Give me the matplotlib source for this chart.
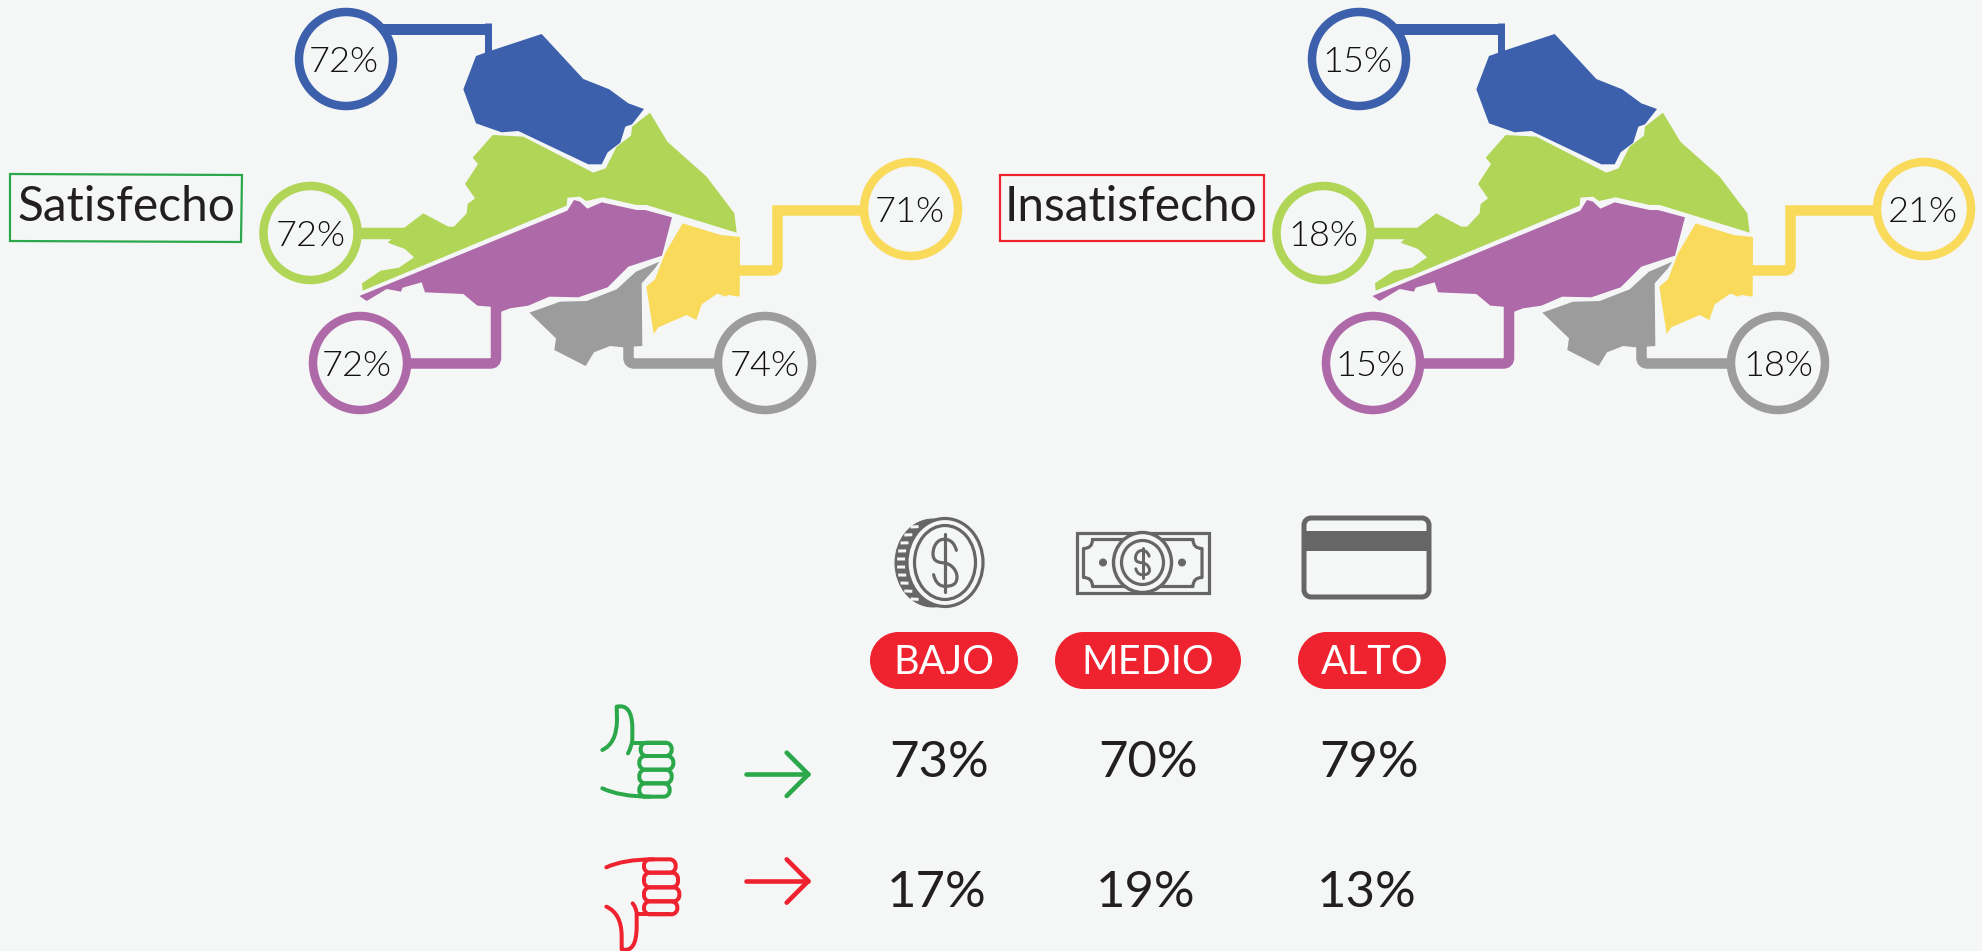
import matplotlib
matplotlib.use("Agg")
import matplotlib.pyplot as plt
from matplotlib.patches import Polygon, Ellipse, PathPatch, Rectangle
from matplotlib.path import Path

BG = "#F5F7F6"
BLUE = "#3D60AC"
GREEN = "#B1D557"
PURPLE = "#AE69A9"
GRAY = "#9C9C9C"
YELLOW = "#F9DA5B"
RED = "#EF2330"
DARK_GREEN = "#2AA84A"
ICON = "#666666"
TEXT = "#231F20"

# map labels, order: blue, green, purple, gray, yellow
SATISFECHO = ["72%", "72%", "72%", "74%", "71%"]
INSATISFECHO = ["15%", "18%", "15%", "18%", "21%"]

LEVELS = ["BAJO", "MEDIO", "ALTO"]
ROW_UP = ["73%", "70%", "79%"]
ROW_DOWN = ["17%", "19%", "13%"]

# region outlines, traced at 3x from a crop starting at (340, 20)
BLUE_SHAPE = [(408,108),(453,92),(605,42),(730,177),(808,208),(865,250),(912,267),(876,313),(856,320),
              (841,368),(803,397),(785,433),(745,433),(535,333),(485,337),(408,310),(370,208)]
GREEN_SHAPE = [(930,278),(982,365),(1100,470),(1183,580),(1190,638),(920,555),(890,555),(788,532),(738,543),
               (720,530),(682,533),(680,557),(68,812),(66,790),(122,752),(177,743),(222,712),(195,687),
               (143,668),(157,655),(197,620),(250,580),(325,620),(342,620),(380,580),(383,552),(405,535),
               (375,492),(414,432),(398,413),(458,345),(550,350),(760,458),(797,445),(830,380),(873,347),(876,320)]
PURPLE_SHAPE = [(702,540),(720,545),(742,566),(785,547),(890,570),(915,570),(996,592),(966,707),(865,740),
                (803,802),(715,832),(628,830),(565,857),(510,865),(484,875),(450,860),(412,857),(370,822),
                (255,817),(245,787),(188,803),(183,815),(140,807),(80,843),(58,828),(682,572)]
GRAY_SHAPE = [(958,725),(945,745),(905,790),(907,978),(850,982),(810,978),(762,997),(737,1038),(643,990),
              (648,955),(568,878),(660,845),(740,843),(830,808),(888,755)]
YELLOW_SHAPE = [(1028,610),(1142,645),(1200,651),(1199,830),(1165,825),(1157,830),(1132,821),(1085,853),
                (1069,900),(1040,885),(955,922),(941,942),(919,800),(945,778),(975,700)]

plt.rcParams["font.family"] = ["Lato", "DejaVu Sans"]

fig = plt.figure(figsize=(19.82, 9.51), dpi=100, facecolor=BG)
ax = fig.add_axes([0, 0, 1, 1])
ax.set_xlim(0, 1982)
ax.set_ylim(951, 0)
ax.axis("off")


def px(width):
    return width * 0.72


def stroke(points, color, width, z=2, corner=None):
    # polyline, index in corner gets rounded with a quadratic curve
    verts = [points[0]]
    codes = [Path.MOVETO]
    for i in range(1, len(points)):
        if corner == i:
            (x0, y0), (x1, y1), (x2, y2) = points[i - 1], points[i], points[i + 1]
            r = 6
            a = (x1 - r * (x1 > x0) + r * (x1 < x0), y1 - r * (y1 > y0) + r * (y1 < y0))
            b = (x1 + r * (x2 > x1) - r * (x2 < x1), y1 + r * (y2 > y1) - r * (y2 < y1))
            verts += [a, (x1, y1), b]
            codes += [Path.LINETO, Path.CURVE3, Path.CURVE3]
        else:
            verts.append(points[i])
            codes.append(Path.LINETO)
    ax.add_patch(PathPatch(Path(verts, codes), fill=False, edgecolor=color, lw=px(width),
                           capstyle="butt", joinstyle="miter", zorder=z))


def curve(verts, codes, color, width, z=3):
    ax.add_patch(PathPatch(Path(verts, codes), fill=False, edgecolor=color, lw=px(width),
                           capstyle="round", joinstyle="round", zorder=z))


def pill(x0, y0, x1, y1, r, face="none", edge="none", width=0, z=3):
    # rounded rectangle with true circular corners
    k = r * 0.45
    verts = [(x0 + r, y0), (x1 - r, y0),
             (x1 - k, y0), (x1, y0 + k), (x1, y0 + r), (x1, y1 - r),
             (x1, y1 - k), (x1 - k, y1), (x1 - r, y1), (x0 + r, y1),
             (x0 + k, y1), (x0, y1 - k), (x0, y1 - r), (x0, y0 + r),
             (x0, y0 + k), (x0 + k, y0), (x0 + r, y0), (x0 + r, y0)]
    L4 = [Path.CURVE4] * 3
    codes = [Path.MOVETO, Path.LINETO] + L4 + [Path.LINETO] + L4 + [Path.LINETO] + L4 + [Path.LINETO] + L4 + [Path.CLOSEPOLY]
    ax.add_patch(PathPatch(Path(verts, codes), facecolor=face, edgecolor=edge, lw=px(width), zorder=z))


def ring(cx, cy, w, h, edge, width, face="none", z=3):
    ax.add_patch(Ellipse((cx, cy), w, h, facecolor=face, edgecolor=edge, lw=px(width), zorder=z))


def dollar(cx, cy, w, h, width, z=6):
    # S curve plus the vertical bar
    hw, hh = w / 2, h / 2
    s = [(0.95, -0.42), (0.7, -0.78), (0.2, -0.8), (-0.1, -0.8),
         (-0.65, -0.8), (-1.0, -0.55), (-1.0, -0.3),
         (-1.0, 0.0), (-0.4, 0.0), (0.0, 0.02),
         (0.55, 0.06), (1.0, 0.28), (1.0, 0.5),
         (1.0, 0.78), (0.5, 0.82), (0.0, 0.82),
         (-0.6, 0.82), (-0.85, 0.6), (-0.95, 0.42)]
    verts = [(cx + x * hw, cy + y * hh) for x, y in s]
    codes = [Path.MOVETO] + [Path.CURVE4] * (len(verts) - 1)
    curve(verts, codes, ICON, width, z)
    ax.plot([cx, cx], [cy - hh, cy + hh], color=ICON, lw=px(width), solid_capstyle="round", zorder=z)


def draw_map(dx, labels):
    # connectors go under the regions
    stroke([(375 + dx, 28.5), (491 + dx, 28.5)], BLUE, 11)
    stroke([(487.5 + dx, 23), (487.5 + dx, 56)], BLUE, 7)
    stroke([(355 + dx, 232.5), (410 + dx, 232.5)], GREEN, 11.5)
    stroke([(496 + dx, 300), (496 + dx, 363.5), (405 + dx, 363.5)], PURPLE, 10.5, corner=1)
    stroke([(628.5 + dx, 340), (628.5 + dx, 363.5), (720 + dx, 363.5)], GRAY, 10.5, corner=1)
    stroke([(735 + dx, 270.5), (777.5 + dx, 270.5), (777.5 + dx, 210.5), (870 + dx, 210.5)], YELLOW, 10.5, corner=1)

    shapes = [BLUE_SHAPE, GREEN_SHAPE, PURPLE_SHAPE, GRAY_SHAPE, YELLOW_SHAPE]
    colors = [BLUE, GREEN, PURPLE, GRAY, YELLOW]
    for shape, color in zip(shapes, colors):
        pts = [(x / 3 + 340 + dx, y / 3 + 20) for x, y in shape]
        ax.add_patch(Polygon(pts, closed=True, facecolor=color, edgecolor="none", zorder=3))

    centers = [(346, 59), (310.5, 233), (360, 363), (765, 363), (911, 209)]
    nudges = [-2, 0, -3, 0, -1]
    for (cx, cy), nudge, color, label in zip(centers, nudges, colors, labels):
        ring(cx + dx, cy, 94, 94, color, 8.5, face=BG, z=4)
        ax.text(cx + dx + nudge, cy + 12.5, label, fontsize=26, color="#111111", ha="center", va="baseline",
                fontweight=300, zorder=5)


draw_map(0, SATISFECHO)
draw_map(1013, INSATISFECHO)

# legend boxes
ax.add_patch(Polygon([(10, 174), (242, 175), (241, 242), (10, 241)], closed=True, fill=False,
                     edgecolor=DARK_GREEN, lw=px(2.2)))
ax.text(126, 221, "Satisfecho", fontsize=34.5, color=TEXT, ha="center", va="baseline")
ax.add_patch(Rectangle((999.5, 175), 264, 66, fill=False, edgecolor=RED, lw=px(2.2)))
ax.text(1131, 221, "Insatisfecho", fontsize=34.5, color=TEXT, ha="center", va="baseline")

# coin icon
ring(933, 563, 76, 88, ICON, 1, face=ICON, z=3)
for rib_y in range(-36, 40, 8):
    half = (1 - (rib_y / 44.0) ** 2) ** 0.5
    x_mid = 933 - 32 * half
    ax.plot([x_mid - 4, x_mid + 4], [563 + rib_y, 563 + rib_y * 1.01], color=BG, lw=px(3), zorder=4,
            solid_capstyle="butt")
ring(945, 562.5, 76, 88, ICON, 3.2, face=BG, z=5)
ring(945, 562.5, 61, 74, ICON, 3.2, z=5)
dollar(945, 562.5, 24, 58, 3.2)

# banknote icon
ax.add_patch(Rectangle((1077, 533), 132, 60, fill=False, edgecolor=ICON, lw=px(3.2), zorder=3))
bl, br, bt, bb, cut = 1083.5, 1202, 539.5, 586.5, 9
note = [(bl + cut, bt), (br - cut, bt), (br - cut, bt + cut), (br, bt + cut), (br, bb - cut), (br - cut, bb - cut),
        (br - cut, bb), (bl + cut, bb), (bl + cut, bb - cut), (bl, bb - cut), (bl, bt + cut), (bl + cut, bt + cut),
        (bl + cut, bt)]
note_codes = [Path.MOVETO, Path.LINETO, Path.CURVE3, Path.CURVE3, Path.LINETO, Path.CURVE3, Path.CURVE3,
              Path.LINETO, Path.CURVE3, Path.CURVE3, Path.LINETO, Path.CURVE3, Path.CURVE3]
curve(note, note_codes, ICON, 3.2, z=3)
ring(1142.5, 562.5, 58, 60, ICON, 3.4, face=BG, z=4)
ring(1142.5, 562.5, 42, 44, ICON, 3.2, z=5)
ring(1103, 562.5, 7, 7, ICON, 1, face=ICON, z=5)
ring(1182, 562.5, 7, 7, ICON, 1, face=ICON, z=5)
dollar(1142.5, 562.5, 14, 30, 3)

# card icon
pill(1304, 518, 1429, 597, 7, edge=ICON, width=5)
ax.add_patch(Rectangle((1304, 531), 125, 20, facecolor=ICON, edgecolor="none", zorder=4))

# level pills
pill_spans = [(870, 1018), (1055, 1241), (1298, 1446)]
for (x0, x1), level in zip(pill_spans, LEVELS):
    pill(x0, 632, x1, 689, 28.5, face=RED)
    ax.text((x0 + x1) / 2, 674.5, level, fontsize=28.5, color="white", ha="center", va="baseline", zorder=5)

# percentage rows
for x, up, down in zip([939, 1148, 1369], ROW_UP, ROW_DOWN):
    ax.text(x, 777, up, fontsize=36.5, color=TEXT, ha="center", va="baseline")
    ax.text(x - 2, 907, down, fontsize=36.5, color=TEXT, ha="center", va="baseline")


def thumb_pts(pts):
    # hand icon traced at 3x from a crop starting at (570, 690)
    return [(x / 3 + 570, y / 3 + 690) for x, y in pts]


C3 = Path.CURVE3
M = Path.MOVETO
L = Path.LINETO

# thumb up
for y0, y1, x0, x1 in [(158, 198, 212, 305), (198, 239, 208, 310), (239, 280, 208, 305), (280, 320, 208, 299)]:
    pill(x0 / 3 + 570, y0 / 3 + 690, x1 / 3 + 570, y1 / 3 + 690, 6, edge=DARK_GREEN, width=4)
curve(thumb_pts([(97, 180), (140, 160), (141, 90), (140, 50), (185, 40), (187, 110), (187, 150), (185, 170), (174, 190)]),
      [M, C3, C3, L, C3, C3, L, C3, C3], DARK_GREEN, 4)
curve(thumb_pts([(187, 158), (290, 158)]), [M, L], DARK_GREEN, 4)
curve(thumb_pts([(97, 295), (150, 320), (240, 320)]), [M, C3, C3], DARK_GREEN, 4)

# thumb down
for y0, y1, x0, x1 in [(508, 548, 222, 317), (548, 592, 222, 324), (592, 634, 222, 328), (634, 673, 222, 322)]:
    pill(x0 / 3 + 570, y0 / 3 + 690, x1 / 3 + 570, y1 / 3 + 690, 6, edge=RED, width=4)
curve(thumb_pts([(109, 532), (160, 508), (250, 508)]), [M, C3, C3], RED, 4)
curve(thumb_pts([(109, 650), (155, 670), (155, 740), (155, 778), (200, 790), (200, 710), (200, 673), (200, 655), (188, 640)]),
      [M, C3, C3, L, C3, C3, L, C3, C3], RED, 4)
curve(thumb_pts([(200, 673), (300, 673)]), [M, L], RED, 4)

# arrows
for y, color in [(253, DARK_GREEN), (573, RED)]:
    curve(thumb_pts([(529, y), (715, y)]), [M, L], color, 4.6)
    curve(thumb_pts([(650, y - 65), (715, y), (650, y + 65)]), [M, L, L], color, 4.6)

fig.savefig("out.png", dpi=100, facecolor=BG)
